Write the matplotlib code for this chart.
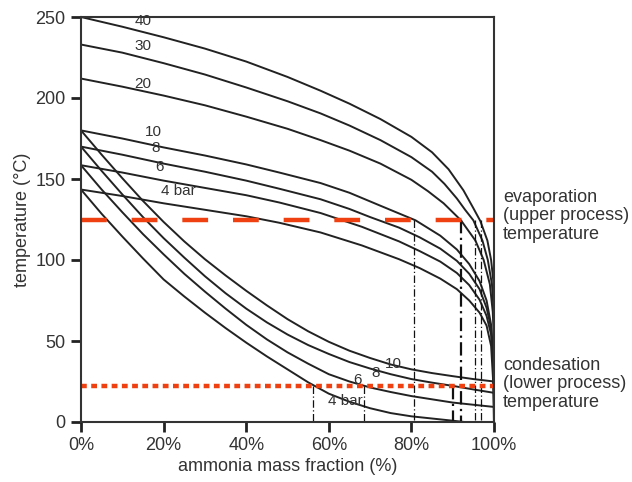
import matplotlib
matplotlib.use("Agg")
import matplotlib.pyplot as plt

plt.rcParams['font.family'] = ['Liberation Sans', 'DejaVu Sans']

# dew lines (upper curves), mass fraction % -> temperature °C
dew_40 = [(0, 250), (10, 244), (20, 237.5), (30, 230.5), (40, 222.5), (50, 213), (58, 204.5), (65, 196.5),
          (72.5, 187), (80, 176), (85, 166.5), (89, 156), (92.6, 143), (95, 132), (96.7, 124),
          (98.4, 112), (99.3, 100), (99.8, 88), (100, 79)]
dew_30 = [(0, 233), (10, 228), (20, 221.5), (30, 214.5), (40, 206.5), (50, 198), (58, 190.5), (65, 183),
          (72.5, 174), (80, 163.5), (85, 154.5), (88, 147), (91, 138), (93, 131), (95, 124.5),
          (97.2, 112), (98.5, 100), (99.5, 85), (100, 66)]
dew_20 = [(0, 212), (10, 207), (20, 201.5), (30, 195.5), (40, 188.5), (50, 181), (58, 174), (65, 167.5),
          (72.5, 159.5), (80, 149.5), (84, 142.5), (87.8, 135), (92, 124.5), (95.5, 112), (97.5, 100),
          (99, 85), (99.7, 68), (100, 49)]
dew_10 = [(0, 180), (10, 175), (20, 169.5), (30, 164.5), (40, 159), (48, 154), (58, 147.5), (65, 141.5),
          (72.5, 133.5), (81, 124.5), (87, 115), (91, 106.5), (94, 97.5), (96.5, 87), (98.2, 75),
          (99.3, 60), (99.8, 42), (100, 25)]
dew_8 = [(0, 170), (10, 165), (20, 159.5), (30, 154.5), (40, 149), (48, 144), (58, 137.5), (65, 131.5),
         (70, 126.5), (77, 120), (82, 114), (87, 107), (91, 99.5), (94, 91.5), (96.5, 82), (98.2, 70.5),
         (99.3, 58), (99.8, 38), (100, 18)]
dew_6 = [(0, 158.5), (10, 154), (20, 149), (30, 144.5), (40, 140), (48, 135.5), (58, 129), (68, 120.5),
         (77, 111.5), (82, 105.5), (87, 99), (91, 92), (94, 84.5), (96.5, 75.5), (98.2, 65.5), (99.3, 54),
         (99.8, 35), (100, 9.3)]
dew_4 = [(0, 143.5), (10, 139.5), (20, 135), (30, 131), (40, 127), (48, 123), (58, 117), (68, 109),
         (77, 100.5), (82, 95), (87, 88.5), (91, 82), (94, 75), (96.5, 67.5), (98.2, 59.5), (99.3, 47),
         (99.8, 25), (100, -2)]

# bubble lines (lower curves)
bub_10 = [(0, 180), (5, 165), (10, 150.5), (15, 136.5), (20, 123.5), (25, 111.5), (30, 100.5), (35, 90.5),
          (40, 81), (45, 72), (50, 63.5), (55, 56), (60, 49.5), (65, 44), (70, 39.5), (75, 35.5),
          (80, 32.5), (85, 30.2), (90, 28.3), (95, 26.5), (100, 25)]
bub_8 = [(0, 170), (5, 155), (10, 140.5), (15, 126.5), (20, 113.5), (25, 101.5), (30, 90), (35, 79.5),
         (40, 70), (45, 61.5), (50, 54), (55, 47.5), (60, 42), (65, 37), (70, 33), (75, 29.5),
         (80, 26.5), (85, 24.3), (90, 22.3), (95, 20.1), (100, 18)]
bub_6 = [(0, 158.5), (5, 143.5), (10, 129.5), (15, 116), (20, 103.5), (25, 91.5), (30, 80.5), (35, 70),
         (40, 60), (45, 51), (50, 43), (55, 36), (60, 29.5), (65, 25), (70, 21.3), (75, 18.5),
         (80, 16), (90, 12), (100, 9.3)]
bub_4 = [(0, 143.5), (5, 128.5), (10, 114.5), (15, 101), (20, 88), (25, 77.5), (30, 67.5), (35, 58),
         (40, 49), (45, 40.5), (50, 32.5), (55, 24.5), (60, 17.5), (65, 12.5), (70, 8.5), (75, 5.5),
         (80, 3.5), (90, 0.8), (100, -2)]

curves = [dew_40, dew_30, dew_20, dew_10, dew_8, dew_6, dew_4, bub_10, bub_8, bub_6, bub_4]

# process temperatures
t_evap = 125
t_cond = 22
# crossings marked by vertical dash-dot lines
x_evap = [80.7, 92.0, 95.3, 96.8]
x_cond = [56.2, 68.6, 90.0]

# curve labels: text, x, T
labels_up = [("40", 15, 243.5), ("30", 15, 228), ("20", 15, 204.5), ("10", 17.5, 174.5),
             ("8", 18, 165), ("6", 19, 153), ("4 bar", 23.5, 138)]
labels_low = [("10", 75.6, 31.5), ("8", 71.3, 26), ("6", 67, 21.5), ("4 bar", 64, 8.5)]

fig = plt.figure(figsize=(6.32, 4.82), dpi=100)
ax = fig.add_axes([81 / 632, 1 - 422 / 482, 413 / 632, 405 / 482])

for c in curves:
    ax.plot([p[0] for p in c], [p[1] for p in c], color='#222222', lw=1.4)

for xv in x_evap:
    lw = 1.6 if xv == 92.0 else 0.9
    ax.plot([xv, xv], [t_evap, 0], color='#111111', lw=lw, ls=(0, (6, 2, 1, 2)))
for xv in x_cond:
    lw = 1.6 if xv == 90.0 else 0.9
    ax.plot([xv, xv], [t_cond, 0], color='#111111', lw=lw, ls=(0, (6, 2, 1, 2)))

ax.plot([0, 100], [t_evap, t_evap], color='#ee4010', lw=3.2, ls=(0, (5.8, 5.6)))
ax.plot([0, 100], [t_cond, t_cond], color='#ee4010', lw=3.2, ls=(0, (1.3, 1.0)))

for txt, xl, yl in labels_up + labels_low:
    ax.text(xl, yl, txt, fontsize=11, color='#333333', ha='center', va='bottom')

ax.set_xlim(0, 100)
ax.set_ylim(0, 250)
ax.set_xticks([0, 20, 40, 60, 80, 100])
ax.set_xticklabels(['0%', '20%', '40%', '60%', '80%', '100%'])
ax.set_yticks([0, 50, 100, 150, 200, 250])
ax.tick_params(length=7, width=2, color='#222222', labelsize=13, labelcolor='#333333', pad=4)
for s in ax.spines.values():
    s.set_color('#333333')
    s.set_linewidth(1.5)

ax.set_xlabel('ammonia mass fraction (%)', fontsize=13, color='#333333', labelpad=3)
ax.set_ylabel('temperature (°C)', fontsize=13, color='#333333', labelpad=3)

fig.text(503 / 632, 1 - 216 / 482, 'evaporation\n(upper process)\ntemperature',
         fontsize=13, color='#333333', va='center', ha='left', linespacing=1.12)
fig.text(503 / 632, 1 - 384 / 482, 'condesation\n(lower process)\ntemperature',
         fontsize=13, color='#333333', va='center', ha='left', linespacing=1.12)

fig.savefig('out.png', dpi=100)
